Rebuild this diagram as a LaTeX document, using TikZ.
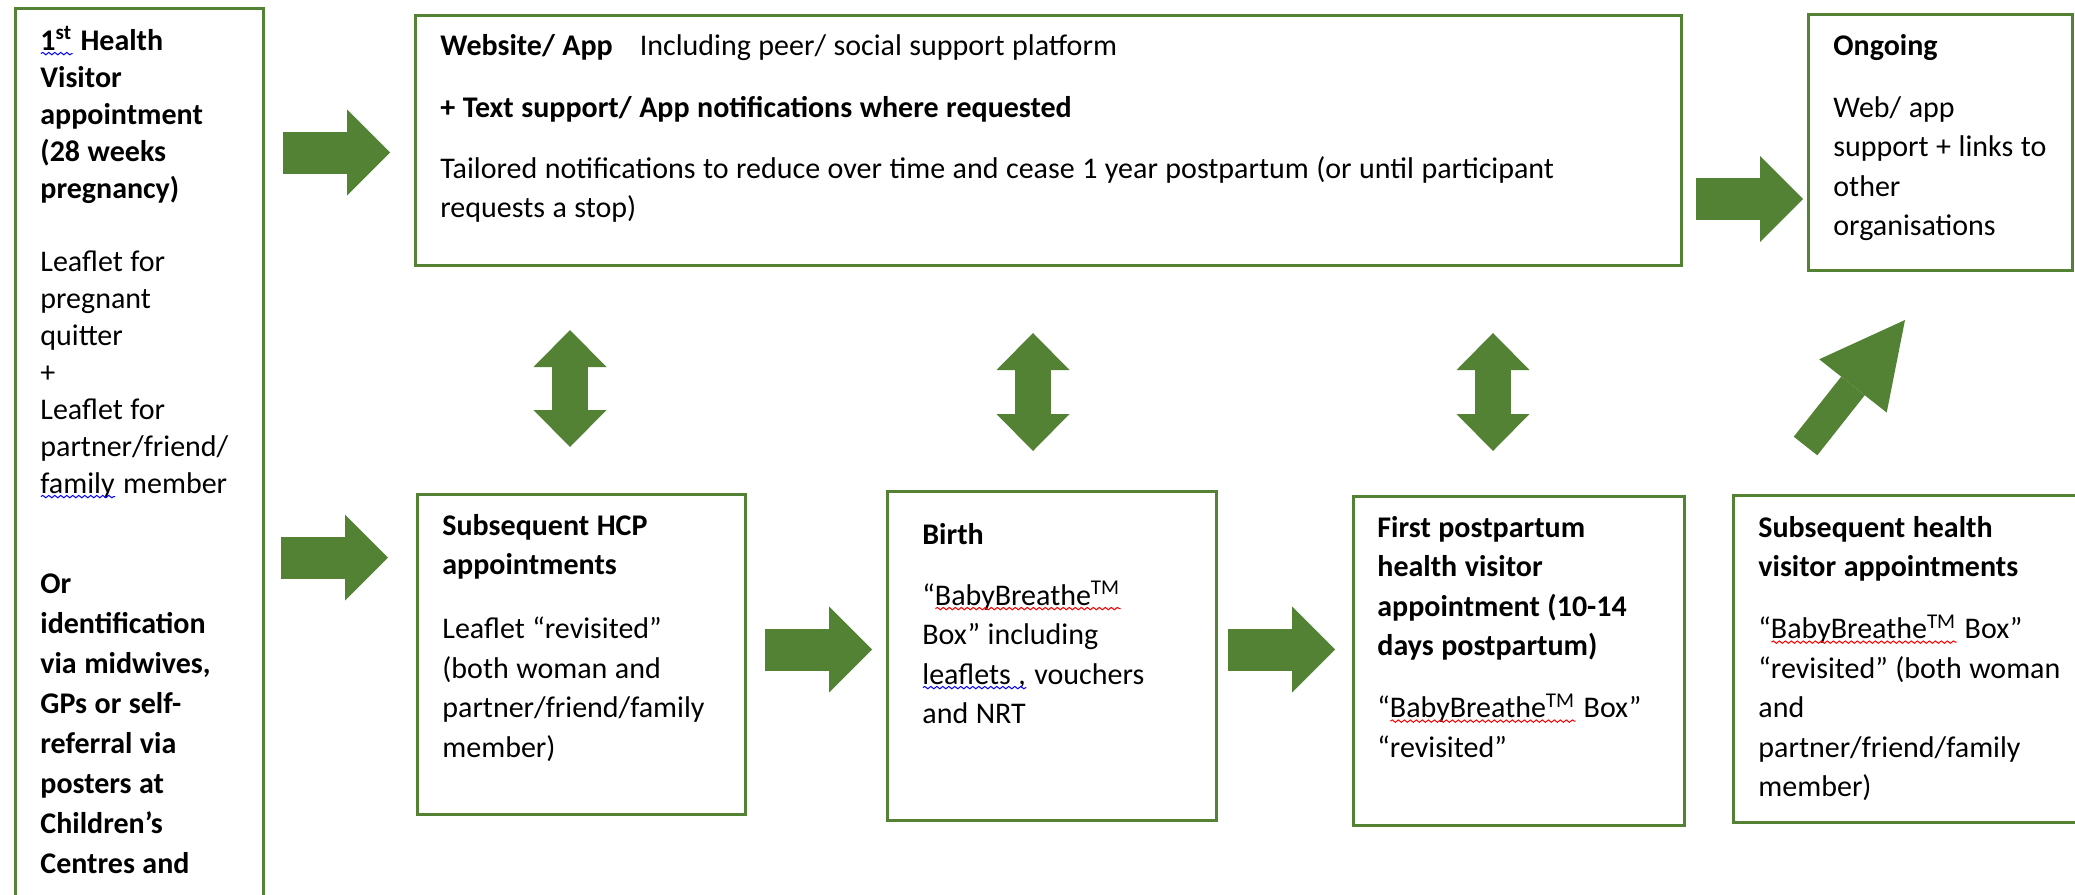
\documentclass[tikz,border=0pt]{standalone}
\usepackage{fontspec}
\setmainfont{Carlito}
\usepackage{tikz}
\usetikzlibrary{arrows.meta,fit,decorations.pathmorphing}
\definecolor{boxgreen}{rgb}{.329,.51,.208}

% word gaps inside the boxes (align=left makes them wide)
\newcommand{\gaps}{\spaceskip=0.25em\relax}

% spell check squiggles under a word
\newdimen\wavewd
\newcommand{\wavy}[2]{\leavevmode\setbox0=\hbox{#2}\wavewd=\wd0\rlap{\box0}%
  \tikz[baseline=0pt]\draw[#1, line width=0.5pt, decorate,
    decoration={snake, amplitude=0.6pt, segment length=3pt}] (0pt,-1.8pt) -- (\wavewd,-1.8pt);}

\tikzset{
  box/.style={draw=boxgreen, line width=1.5pt, inner sep=0pt, outer sep=0pt},
  txt/.style={anchor=base west, inner sep=0pt, align=left, text width=#1,
    font=\fontsize{15}{19.75}\selectfont},
  txt/.default=170pt,
  fatarrow/.style={draw=boxgreen, line width=21pt,
    -{Triangle[length=21.5pt,width=43pt,line width=0pt]}},
  updown/.style={draw=boxgreen, line width=18pt,
    {Triangle[length=18.5pt,width=36.5pt,line width=0pt]}-{Triangle[length=18.5pt,width=36.5pt,line width=0pt]}},
  slant/.style={draw=boxgreen, line width=15pt,
    -{Triangle[length=42pt,width=43pt,line width=0pt]}}
}

\begin{document}
\begin{tikzpicture}[x=0.5pt,y=-0.5pt]
    \useasboundingbox (0,0) rectangle (2075,894);
    \clip (0,0) rectangle (2075,894); % page edge cuts the long boxes

    % Boxes
    \node[box, fit={(15,8) (263,940)}] (FirstVisit) {};
    \node[box, fit={(415,15) (1681,265)}] (WebApp) {};
    \node[box, fit={(1808,14) (2072,270)}] (Ongoing) {};
    \node[box, fit={(417,494) (745,814)}] (HcpVisits) {};
    \node[box, fit={(887,491) (1216,820)}] (Birth) {};
    \node[box, fit={(1353,496) (1684,825)}] (PostpartumVisit) {};
    \node[box, fit={(1733,495) (2100,822)}] (LaterVisits) {};

    % Texts
    \node[txt, font=\fontsize{15}{18.5}\selectfont] (FirstVisitText) at ([shift={(25,42)}]FirstVisit.north west)
      {\gaps\textbf{\wavy{blue}{1\textsuperscript{st}} Health\\ Visitor\\ appointment\\ (28 weeks\\ pregnancy)}\\[18pt]
       Leaflet for\\ pregnant\\ quitter\\ +\\ Leaflet for\\ partner/friend/\\ \wavy{blue}{family} member\\[31.5pt]
       \textbf{Or\\[1.5pt] identification\\[1.5pt] via midwives,\\[1.5pt] GPs or self-\\[1.5pt] referral via\\[1.5pt]
       posters at\\[1.5pt] Children’s\\[1.5pt] Centres and}};
    \node[txt=620pt] (WebAppText) at ([shift={(25,40)}]WebApp.north west)
      {\gaps\textbf{Website/ App}\hspace{13.5pt}Including peer/ social support platform\\[11.25pt]
       \textbf{+ Text support/ App notifications where requested}\\[10.75pt]
       Tailored notifications to reduce over time and cease 1 year postpartum (or until participant\\
       requests a stop)};
    \node[txt] (OngoingText) at ([shift={(25,41)}]Ongoing.north west)
      {\gaps\textbf{Ongoing}\\[11.25pt] Web/ app\\ support + links to\\ other\\ organisations};
    \node[txt] (HcpVisitsText) at ([shift={(25,41)}]HcpVisits.north west)
      {\gaps\textbf{Subsequent HCP\\ appointments}\\[12.25pt] Leaflet “revisited”\\ (both woman and\\
       partner/friend/family\\ member)};
    \node[txt] (BirthText) at ([shift={(35,53)}]Birth.north west)
      {\gaps\textbf{Birth}\\[10.75pt] “\wavy{red}{BabyBreathe\textsuperscript{TM}}\\ Box” including\\
       \wavy{blue}{leaflets ,} vouchers\\ and NRT};
    \node[txt] (PostpartumVisitText) at ([shift={(24,41)}]PostpartumVisit.north west)
      {\gaps\textbf{First postpartum\\ health visitor\\ appointment (10-14\\ days postpartum)}\\[11.25pt]
       “\wavy{red}{BabyBreathe\textsuperscript{TM}} Box”\\ “revisited”};
    \node[txt] (LaterVisitsText) at ([shift={(25,42)}]LaterVisits.north west)
      {\gaps\textbf{Subsequent health\\ visitor appointments}\\[11.25pt]
       “\wavy{red}{BabyBreathe\textsuperscript{TM}} Box”\\ “revisited” (both woman\\ and\\
       partner/friend/family\\ member)};

    % Rows and columns the arrows run on
    \coordinate (TopRow) at (0,152.5);
    \coordinate (MidRow) at (0,557.5);
    \coordinate (LowRow) at (0,649.5);
    \coordinate (WebRow) at (0,199);
    \coordinate (ColA) at (570,0);
    \coordinate (ColB) at (1033,0);
    \coordinate (ColC) at (1493,0);

    \draw[fatarrow, shorten <=10pt, shorten >=12.5pt] (FirstVisit.east |- TopRow) -- (WebApp.west |- TopRow);
    \draw[fatarrow, shorten <=9pt, shorten >=14.5pt] (FirstVisit.east |- MidRow) -- (HcpVisits.west |- MidRow);
    \draw[fatarrow, shorten <=10pt, shorten >=7.5pt] (HcpVisits.east |- LowRow) -- (Birth.west |- LowRow);
    \draw[fatarrow, shorten <=6pt, shorten >=9pt] (Birth.east |- LowRow) -- (PostpartumVisit.west |- LowRow);
    \draw[fatarrow, shorten <=7.5pt, shorten >=2.5pt] (WebApp.east |- WebRow) -- (Ongoing.west |- WebRow);

    \draw[updown, shorten <=32.5pt, shorten >=23.5pt] (WebApp.south -| ColA) -- (HcpVisits.north -| ColA);
    \draw[updown, shorten <=34pt, shorten >=20pt] (WebApp.south -| ColB) -- (Birth.north -| ColB);
    \draw[updown, shorten <=34pt, shorten >=22.5pt] (WebApp.south -| ColC) -- (PostpartumVisit.north -| ColC);

    \draw[slant] ([shift={(72.5,-49)}]LaterVisits.north west) -- ([shift={(97,50)}]Ongoing.south west);
\end{tikzpicture}
\end{document}
